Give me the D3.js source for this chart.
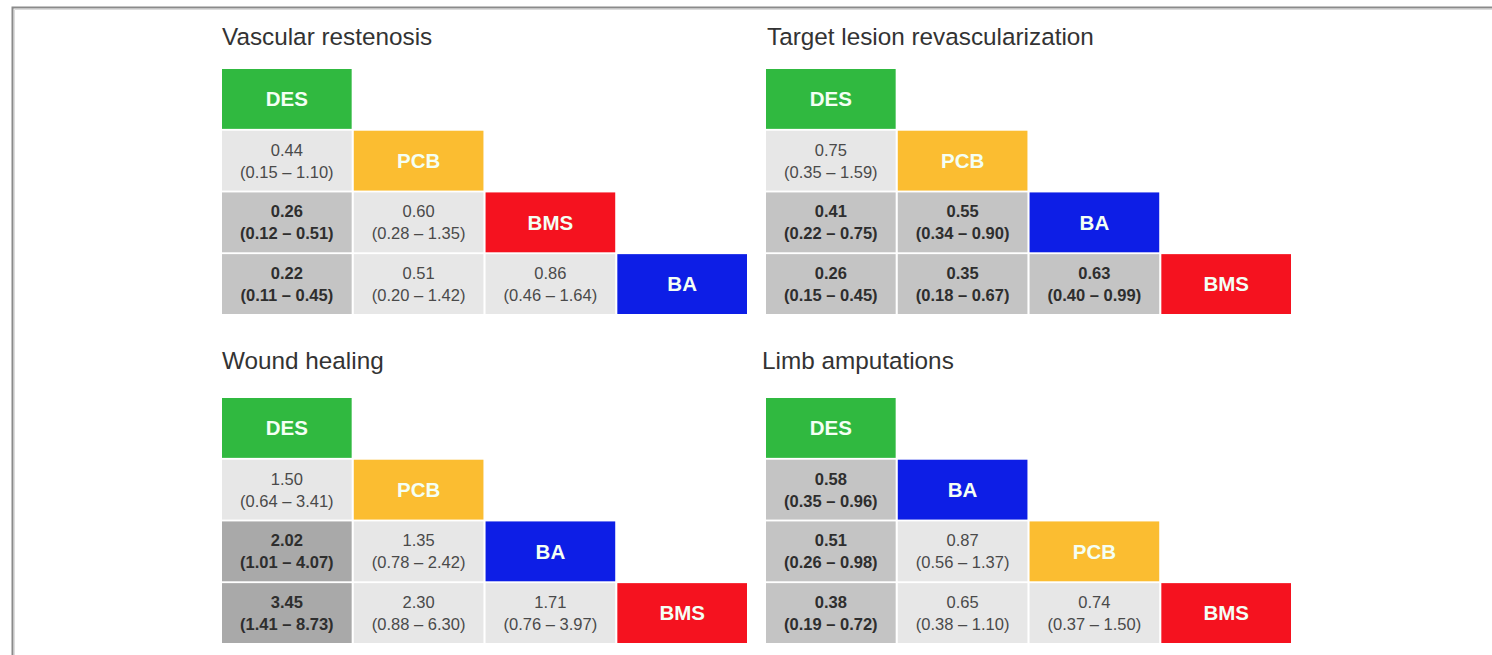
<!DOCTYPE html>
<html>
<head>
<meta charset="utf-8">
<script src="https://cdn.jsdelivr.net/npm/d3@7"></script>
<style>
  html, body { margin: 0; padding: 0; background: #fff; }
  svg { display: block; }
</style>
</head>
<body>
<svg id="chart" width="1492" height="655"></svg>
<script>
// ---- data ----
const titles = ["Vascular restenosis", "Target lesion revascularization", "Wound healing", "Limb amputations"];
const orders = [
  ["DES", "PCB", "BMS", "BA"],
  ["DES", "PCB", "BA", "BMS"],
  ["DES", "PCB", "BA", "BMS"],
  ["DES", "BA", "PCB", "BMS"]
];
// lower-triangle cells, row by row: (1,0), (2,0), (2,1), (3,0), (3,1), (3,2)
const vrEst = [0.44, 0.26, 0.60, 0.22, 0.51, 0.86];
const vrLo  = [0.15, 0.12, 0.28, 0.11, 0.20, 0.46];
const vrHi  = [1.10, 0.51, 1.35, 0.45, 1.42, 1.64];
const vrSig = [0, 1, 0, 1, 0, 0];

const tlrEst = [0.75, 0.41, 0.55, 0.26, 0.35, 0.63];
const tlrLo  = [0.35, 0.22, 0.34, 0.15, 0.18, 0.40];
const tlrHi  = [1.59, 0.75, 0.90, 0.45, 0.67, 0.99];
const tlrSig = [0, 1, 1, 1, 1, 1];

const whEst = [1.50, 2.02, 1.35, 3.45, 2.30, 1.71];
const whLo  = [0.64, 1.01, 0.78, 1.41, 0.88, 0.76];
const whHi  = [3.41, 4.07, 2.42, 8.73, 6.30, 3.97];
const whSig = [0, 2, 0, 2, 0, 0];

const laEst = [0.58, 0.51, 0.87, 0.38, 0.65, 0.74];
const laLo  = [0.35, 0.26, 0.56, 0.19, 0.38, 0.37];
const laHi  = [0.96, 0.98, 1.37, 0.72, 1.10, 1.50];
const laSig = [1, 1, 0, 1, 0, 0];

const pairs = [[1,0],[2,0],[2,1],[3,0],[3,1],[3,2]];
const panelsData = [
  {est: vrEst, lo: vrLo, hi: vrHi, sig: vrSig},
  {est: tlrEst, lo: tlrLo, hi: tlrHi, sig: tlrSig},
  {est: whEst, lo: whLo, hi: whHi, sig: whSig},
  {est: laEst, lo: laLo, hi: laHi, sig: laSig}
];

// ---- styles ----
const treatColor = d3.scaleOrdinal()
  .domain(["DES", "PCB", "BMS", "BA"])
  .range(["#30b940", "#fbbd31", "#f5121f", "#0d1ee6"]);
const shade = ["#e7e7e7", "#c4c4c4", "#a9a9a9"];
const fmt = d3.format(".2f");

const svg = d3.select("#chart");

// frame
svg.append("path")
  .attr("d", "M12.5,655 L12.5,7.5 L1492,7.5")
  .attr("fill", "none").attr("stroke", "#8a8a8a").attr("stroke-width", 2);
svg.append("path")
  .attr("d", "M14.5,655 L14.5,9.5 L1492,9.5")
  .attr("fill", "none").attr("stroke", "#dcdcdc").attr("stroke-width", 1);

const panelX = [222, 766, 222, 766];
const panelY = [69, 69, 398, 398];
const titleX = [222, 767, 222, 762];
const titleY = [45, 45, 369, 369];
const gridW = 525, gridH = 245;

panelsData.forEach((pd, p) => {
  const order = orders[p];
  const x = d3.scaleBand().domain(d3.range(4)).range([panelX[p], panelX[p] + gridW]).paddingInner(0.016);
  const y = d3.scaleBand().domain(d3.range(4)).range([panelY[p], panelY[p] + gridH]).paddingInner(0.03);
  const g = svg.append("g");

  g.append("text")
    .attr("x", titleX[p]).attr("y", titleY[p])
    .attr("font-family", "Liberation Sans, Arial, sans-serif")
    .attr("font-size", 24.3)
    .attr("fill", "#333")
    .text(titles[p]);

  // diagonal treatment headers
  const diag = g.selectAll("g.diag").data(order).join("g").attr("class", "diag");
  diag.append("rect")
    .attr("x", (d, i) => x(i)).attr("y", (d, i) => y(i))
    .attr("width", x.bandwidth()).attr("height", y.bandwidth())
    .attr("fill", d => treatColor(d));
  diag.append("text")
    .attr("x", (d, i) => x(i) + x.bandwidth() / 2)
    .attr("y", (d, i) => y(i) + y.bandwidth() / 2)
    .attr("dy", "0.36em")
    .attr("text-anchor", "middle")
    .attr("font-family", "Liberation Sans, Arial, sans-serif")
    .attr("font-weight", "bold")
    .attr("font-size", 20.5)
    .attr("fill", "#f4fff4")
    .text(d => d);

  // comparison cells
  const cells = pairs.map((pr, k) => ({r: pr[0], c: pr[1], est: pd.est[k], lo: pd.lo[k], hi: pd.hi[k], sig: pd.sig[k]}));
  const cg = g.selectAll("g.cell").data(cells).join("g").attr("class", "cell");
  cg.append("rect")
    .attr("x", d => x(d.c)).attr("y", d => y(d.r))
    .attr("width", x.bandwidth()).attr("height", y.bandwidth())
    .attr("fill", d => shade[d.sig]);
  const t = cg.append("text")
    .attr("text-anchor", "middle")
    .attr("font-family", "Liberation Sans, Arial, sans-serif")
    .attr("font-size", 16.5)
    .attr("font-weight", d => d.sig ? "bold" : "normal")
    .attr("fill", d => d.sig ? "#2e2e2e" : "#4a4a4a");
  t.append("tspan")
    .attr("x", d => x(d.c) + x.bandwidth() / 2)
    .attr("y", d => y(d.r) + y.bandwidth() / 2 - 5)
    .text(d => fmt(d.est));
  t.append("tspan")
    .attr("x", d => x(d.c) + x.bandwidth() / 2)
    .attr("y", d => y(d.r) + y.bandwidth() / 2 + 17)
    .text(d => "(" + fmt(d.lo) + " \u2013 " + fmt(d.hi) + ")");
});
</script>
</body>
</html>
